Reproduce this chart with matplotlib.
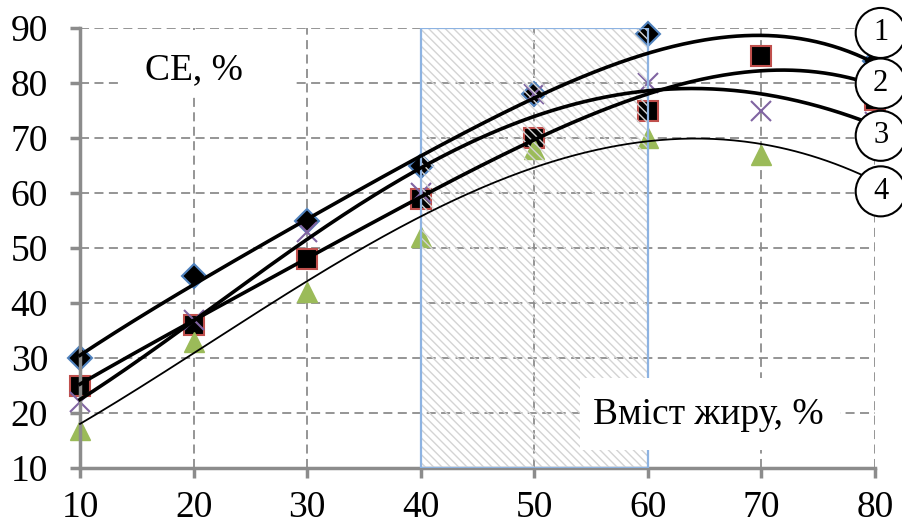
import numpy as np
import matplotlib
matplotlib.use("Agg")
import matplotlib.pyplot as plt
from matplotlib.patches import Rectangle, Ellipse

# ---- data (markers) ----
fat = [10, 20, 30, 40, 50, 60, 70, 80]
s1 = [30, 45, 55, 65, 78, 89, None, 84]      # diamonds
s2 = [25, 36, 48, 59, 70, 75, 85, 77]        # squares
s3 = [22, 37, 53, 60, 78, 80, 75, 73]        # crosses
s4 = [17, 33, 42, 52, 68, 70, 67, 62]        # triangles
# ---- trend lines at the same x ----
t1 = [30.3, 43.9, 55.1, 65.7, 78.2, 85.7, 88.0, 83.8]
t2 = [25.3, 36.7, 48.2, 59.4, 69.7, 77.7, 82.5, 79.5]
t3 = [22.4, 36.7, 52.4, 63.0, 74.8, 79.0, 77.4, 72.5]
t4 = [17.9, 31.2, 43.9, 55.1, 65.2, 69.6, 68.5, 62.3]
xticks = [10, 20, 30, 40, 50, 60, 70, 80]
yticks = [10, 20, 30, 40, 50, 60, 70, 80, 90]
zone = [40, 60]
labels = ["1", "2", "3", "4"]

plt.rcParams['font.family'] = ['Liberation Serif', 'DejaVu Serif']

fig = plt.figure(figsize=(9.02, 5.27), dpi=100)
ax = fig.add_axes([80/902, 1-468/527, 795/902, 440/527])
ax.set_xlim(10, 80)
ax.set_ylim(10, 90)

grid_c = '#8c8c8c'
ax.set_xticks(xticks)
ax.set_yticks(yticks)
ax.grid(True, color=grid_c, linestyle=(0, (5, 3)), linewidth=1.3, zorder=0)
ax.set_axisbelow(True)
for sp in ['top', 'right']:
    ax.spines[sp].set_visible(False)
for sp in ['left', 'bottom']:
    ax.spines[sp].set_color(grid_c)
    ax.spines[sp].set_linewidth(2.5)
ax.tick_params(axis='both', colors=grid_c, length=7, width=2.5, labelsize=27,
               labelcolor='black', direction='out')
ax.tick_params(axis='x', pad=9)
ax.tick_params(axis='y', pad=16)

# hatched zone
ax.add_patch(Rectangle((zone[0], 10), zone[1]-zone[0], 80, facecolor='none',
                       edgecolor='#d4d4d4', hatch='\\\\\\\\', linewidth=0, zorder=2.6))
ax.add_patch(Rectangle((zone[0], 10), zone[1]-zone[0], 80, facecolor='none',
                       edgecolor='#8db3e2', linewidth=1.6, zorder=2.7))

series = [
    (s1, t1, dict(marker='D', markersize=12, markerfacecolor='black', markeredgecolor='#4f81bd', markeredgewidth=1.5), 2.6),
    (s2, t2, dict(marker='s', markersize=14, markerfacecolor='black', markeredgecolor='#c0504d', markeredgewidth=1.5), 2.6),
    (s3, t3, dict(marker='x', markersize=14, markeredgecolor='#8064a2', markeredgewidth=1.5), 2.6),
    (s4, t4, dict(marker='^', markersize=15, markerfacecolor='#9bbb59', markeredgecolor='#9bbb59'), 1.3),
]

xs = np.linspace(10, 80, 300)
for vals, trend, mk, lw in series:
    px = [x for x, v in zip(fat, vals) if v is not None]
    py = [v for v in vals if v is not None]
    ax.plot(px, py, linestyle='none', zorder=2.5, clip_on=False, **mk)
    coef = np.polyfit(fat, trend, 4)
    ax.plot(xs, np.polyval(coef, xs), color='black', linewidth=lw, zorder=4, clip_on=False)

# text boxes
ax.add_patch(Rectangle((13.7, 77.7), 15.2, 11.9, facecolor='white', edgecolor='none', zorder=3))
ax.text(20.0, 82.3, 'CE, %', fontsize=27, ha='center', va='center', zorder=5)
ax.add_patch(Rectangle((54.0, 13.3), 22.9, 13.0, facecolor='white', edgecolor='none', zorder=3))
ax.text(65.3, 19.6, 'Вміст жиру, %', fontsize=27, ha='center', va='center', zorder=5)

# numbered circles
cy = [89.1, 79.9, 70.4, 60.3]
for lab, y in zip(labels, cy):
    ax.add_patch(Ellipse((80.5, y), 4.4, 9.1, facecolor='white', edgecolor='black',
                         linewidth=1.5, zorder=6, clip_on=False))
    ax.text(80.5, y, lab, fontsize=22, ha='center', va='center', zorder=7, clip_on=False)

fig.savefig('out.png', dpi=100)
